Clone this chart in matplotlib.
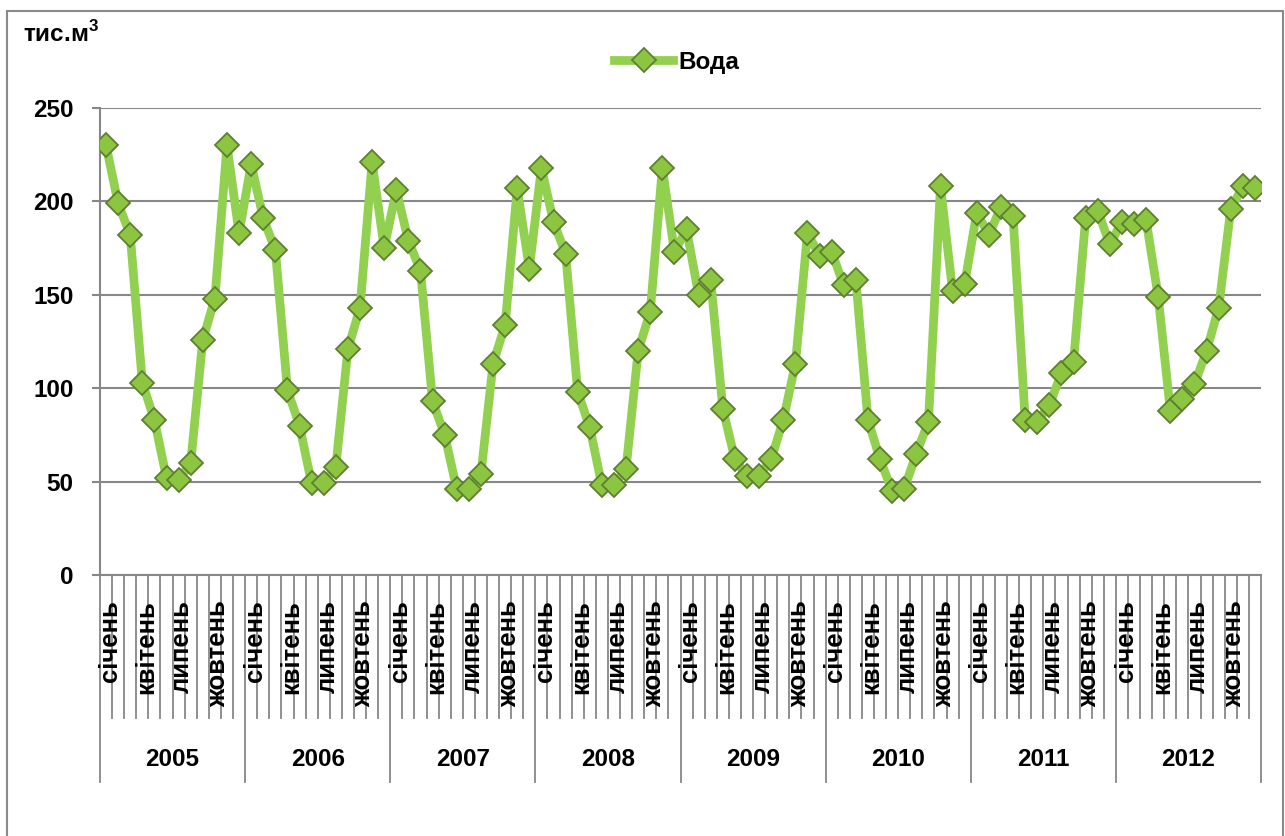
import matplotlib.pyplot as plt
import matplotlib.transforms as mtransforms
from matplotlib.patches import Rectangle
import numpy as np

plt.rcParams['font.family'] = ['Liberation Sans', 'DejaVu Sans']
plt.rcParams['font.weight'] = 'bold'
plt.rcParams['mathtext.fontset'] = 'custom'
plt.rcParams['mathtext.bf'] = 'Liberation Sans:bold'
plt.rcParams['mathtext.rm'] = 'Liberation Sans:bold'

years = ['2005', '2006', '2007', '2008', '2009', '2010', '2011', '2012']
months = ['січень', 'лютий', 'березень', 'квітень', 'травень', 'червень',
          'липень', 'серпень', 'вересень', 'жовтень', 'листопад', 'грудень']

v2005 = [230, 199, 182, 103, 83, 52, 51, 60, 126, 148, 230, 183]
v2006 = [220, 191, 174, 99, 80, 49, 49, 58, 121, 143, 221, 175]
v2007 = [206, 179, 163, 93, 75, 46, 46, 54, 113, 134, 207, 164]
v2008 = [218, 189, 172, 98, 79, 48, 48, 57, 120, 141, 218, 173]
v2009 = [185, 150, 158, 89, 62, 53, 53, 62, 83, 113, 183, 171]
v2010 = [173, 155, 158, 83, 62, 45, 46, 65, 82, 208, 152, 156]
v2011 = [194, 182, 197, 192, 83, 82, 91, 108, 114, 191, 195, 177]
v2012 = [189, 188, 190, 149, 88, 94, 102, 120, 143, 196, 208, 207]

values = v2005 + v2006 + v2007 + v2008 + v2009 + v2010 + v2011 + v2012
n = len(values)
x = np.arange(n)

W, H = 1285, 836
fig = plt.figure(figsize=(W / 100, H / 100), dpi=100)
ax = fig.add_axes([100 / W, (H - 575) / H, 1161 / W, 467 / H])

grid_c = '#878787'
line_c = '#92D050'

ax.plot(x, values, color=line_c, lw=6.3, marker='D', markersize=12,
        markerfacecolor='#8CC540', markeredgecolor='#5E7F30', markeredgewidth=1.3,
        label='Вода', zorder=3)

ax.set_xlim(-0.5, n - 0.5)
ax.set_ylim(0, 250)
ax.set_yticks([0, 50, 100, 150, 200, 250])
ax.yaxis.grid(True, color=grid_c, lw=1.5)
ax.set_axisbelow(True)
ax.tick_params(axis='y', length=6, width=1.5, color=grid_c, pad=13, labelsize=17.5)
ax.set_xticks([])
for s in ['top', 'right']:
    ax.spines[s].set_visible(False)
for s in ['left', 'bottom']:
    ax.spines[s].set_color(grid_c)
    ax.spines[s].set_linewidth(1.5)

# category axis: month separators, year separators, labels
trans = mtransforms.blended_transform_factory(ax.transData, ax.transAxes)
month_bottom = -(718 - 575) / 467
year_bottom = -(782 - 575) / 467
for k in range(n + 1):
    xb = k - 0.5
    y_end = year_bottom if k % 12 == 0 else month_bottom
    ax.plot([xb, xb], [0, y_end], color=grid_c, lw=1.3, transform=trans,
            clip_on=False, zorder=1)

for i in range(n):
    m = i % 12
    if m % 3 == 0:
        ax.text(i + 0.3, -(600 - 575) / 467, months[m], rotation=90,
                ha='center', va='top', fontsize=18.5, transform=trans, zorder=2)

for j, yr in enumerate(years):
    ax.text(j * 12 + 5.5, -(760 - 575) / 467, yr, ha='center', va='center',
            fontsize=17.5, transform=trans)

# unit label
fig.text(23 / W, 1 - 42 / H, 'тис.м$^{3}$', fontsize=17.5, ha='left', va='baseline')

# legend
fig.legend(loc='center', bbox_to_anchor=(677 / W, 1 - 62 / H), frameon=False,
           fontsize=17.5, handlelength=2.4, handletextpad=0.25, borderpad=0)

# outer frame
fig.patches.append(Rectangle((7 / W, -0.05), 1276 / W, 1.05 - 11 / H,
                             transform=fig.transFigure, fill=False,
                             edgecolor='#8a8a8a', lw=1.5))

fig.savefig('out.png', dpi=100)
